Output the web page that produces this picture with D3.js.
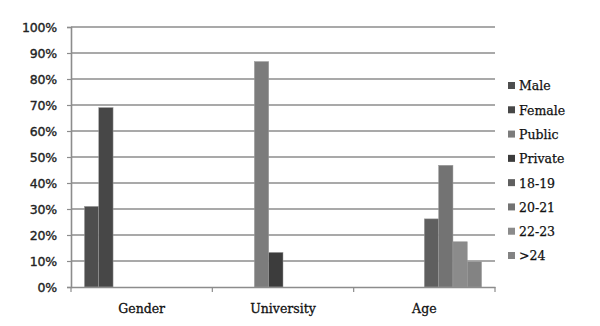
<!DOCTYPE html>
<html><head><meta charset="utf-8">
<script src="https://cdn.jsdelivr.net/npm/d3@7"></script>
<style>body{margin:0;background:#fff}svg{display:block}</style>
</head><body>
<svg id="c" width="600" height="326"></svg>
<script>
const categories = ["Gender", "University", "Age"];
const seriesNames = ["Male", "Female", "Public", "Private", "18-19", "20-21", "22-23", ">24"];
const seriesColors = ["#4e4e4e", "#474747", "#7c7c7c", "#3c3c3c", "#5f5f5f", "#737373", "#8b8b8b", "#838383"];
// values per series, one per category (null = no bar)
const male    = [31, null, null];
const female  = [69, null, null];
const publicU = [null, 86.7, null];
const privateU= [null, 13.3, null];
const age1819 = [null, null, 26.2];
const age2021 = [null, null, 46.8];
const age2223 = [null, null, 17.4];
const age24   = [null, null, 9.7];
const yTicks  = [0,10,20,30,40,50,60,70,80,90,100];

const seriesValues = [male, female, publicU, privateU, age1819, age2021, age2223, age24];

const svg = d3.select("#c");
const mLeft = 71, mRight = 495, mTop = 27, mBottom = 287;

const x0 = d3.scaleBand().domain(categories).range([mLeft, mRight]).padding(0);
const x1 = d3.scaleBand().domain(seriesNames).range([0, x0.bandwidth()]).paddingInner(0).paddingOuter(0.94);
const y = d3.scaleLinear().domain([0, 100]).range([mBottom, mTop]);

// gridlines
svg.append("g").selectAll("line").data(yTicks.filter(d => d > 0)).join("line")
  .attr("x1", mLeft).attr("x2", mRight)
  .attr("y1", d => y(d)).attr("y2", d => y(d))
  .attr("stroke", "#8c8c8c").attr("stroke-width", 1.6);

// y axis
const yAxis = d3.axisLeft(y).tickValues(yTicks).tickFormat(d => d + "%").tickSize(4).tickPadding(10);
const gy = svg.append("g").attr("transform", `translate(${mLeft},0)`).call(yAxis);
gy.select(".domain").attr("stroke", "#8c8c8c").attr("stroke-width", 1.6);
gy.selectAll(".tick line").attr("stroke", "#8c8c8c").attr("stroke-width", 1.2);
gy.selectAll(".tick text").attr("font-family", "DejaVu Sans, sans-serif").attr("font-size", 12.5)
  .attr("fill", "#222").attr("stroke", "#222").attr("stroke-width", 0.35).style("letter-spacing", "-0.2px");

// bars
seriesNames.forEach((s, i) => {
  const vals = seriesValues[i];
  svg.append("g").selectAll("rect").data(categories.map((c, j) => ({c, v: vals[j]})).filter(d => d.v != null))
    .join("rect")
    .attr("x", d => x0(d.c) + x1(s))
    .attr("width", x1.bandwidth())
    .attr("y", d => y(d.v))
    .attr("height", d => y(0) - y(d.v))
    .attr("fill", seriesColors[i])
    .attr("stroke", "#9a9a9a").attr("stroke-width", 0.5);
});

// x axis
const xAxis = d3.axisBottom(x0).tickSize(0).tickPadding(17);
const gx = svg.append("g").attr("transform", `translate(0,${mBottom})`).call(xAxis);
gx.select(".domain").attr("stroke", "#8c8c8c").attr("stroke-width", 1.6);
gx.selectAll(".tick text").attr("font-family", "DejaVu Serif, serif").attr("font-size", 12.5)
  .attr("fill", "#111").attr("stroke", "#111").attr("stroke-width", 0.3);
// boundary ticks
const bounds = categories.map(c => x0(c)).concat([x0(categories[categories.length-1]) + x0.bandwidth()]);
gx.append("g").selectAll("line").data(bounds).join("line")
  .attr("x1", d => d).attr("x2", d => d).attr("y1", 0).attr("y2", 5)
  .attr("stroke", "#8c8c8c").attr("stroke-width", 1.2);

// legend
const ly = d3.scalePoint().domain(seriesNames).range([86, 256]);
const lg = svg.append("g");
seriesNames.forEach((s, i) => {
  lg.append("rect").attr("x", 508).attr("y", ly(s) - 4).attr("width", 7).attr("height", 7)
    .attr("fill", seriesColors[i]);
  lg.append("text").attr("x", 519).attr("y", ly(s)).attr("dy", "0.35em")
    .attr("font-family", "DejaVu Serif, serif").attr("font-size", 12.5)
    .attr("fill", "#111").attr("stroke", "#111").attr("stroke-width", 0.25).text(s);
});
</script>
</body></html>
